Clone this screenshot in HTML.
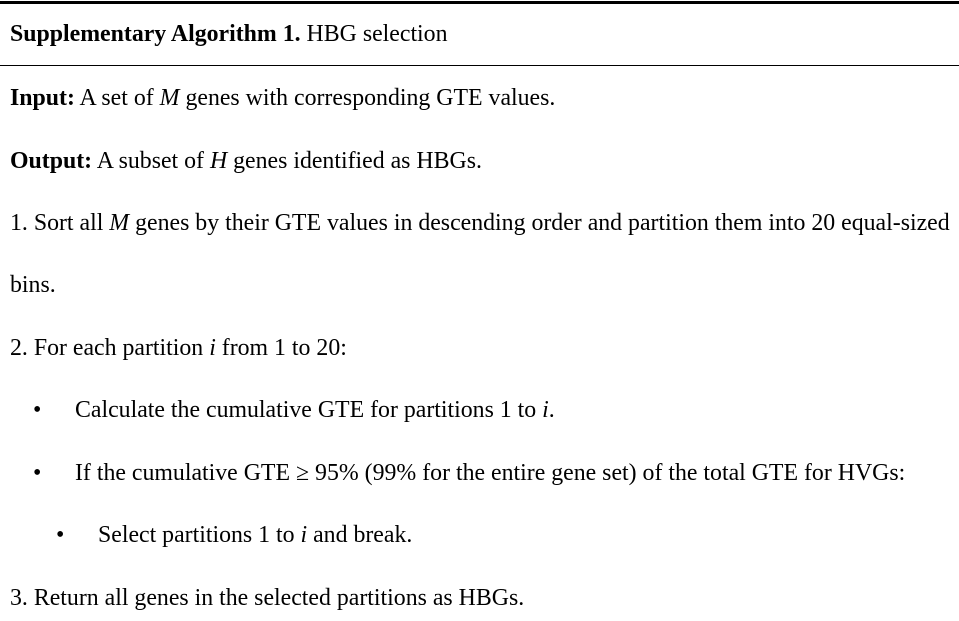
<!DOCTYPE html>
<html><head><meta charset="utf-8"><style>
html,body{margin:0;padding:0;background:#fff;width:959px;height:621px;overflow:hidden;position:relative}
body{font-family:"Liberation Serif","Tinos","Times New Roman","Times","Nimbus Roman","DejaVu Serif",serif;font-size:21px;color:#000}
.l{position:absolute;white-space:nowrap;line-height:21px}
.rule{position:absolute;left:0;width:959px;background:#000}
</style></head><body>
<div class="rule" style="top:1px;height:3px"></div>
<div class="l" style="left:10px;top:24px"><b>Supplementary Algorithm 1.</b> HBG selection</div>
<div class="rule" style="top:65px;height:1px"></div>
<div class="l" style="left:10px;top:88px"><b>Input:</b> A set of <i>M</i> genes with corresponding GTE values.</div>
<div class="l" style="left:10px;top:151px"><b>Output:</b> A subset of <i>H</i> genes identified as HBGs.</div>
<div class="l" id="ref" style="left:10px;top:213px">1. Sort all <i>M</i> genes by their GTE values in descending order and partition them into 20 equal-sized</div>
<div class="l" style="left:10px;top:275px">bins.</div>
<div class="l" style="left:10px;top:338px">2. For each partition <i>i</i> from 1 to 20:</div>
<div class="l" style="left:33px;top:400px">•</div>
<div class="l" style="left:75px;top:400px">Calculate the cumulative GTE for partitions 1 to <i>i</i>.</div>
<div class="l" style="left:33px;top:463px">•</div>
<div class="l" style="left:75px;top:463px">If the cumulative GTE ≥ 95% (99% for the entire gene set) of the total GTE for HVGs:</div>
<div class="l" style="left:56px;top:525px">•</div>
<div class="l" style="left:98px;top:525px">Select partitions 1 to <i>i</i> and break.</div>
<div class="l" style="left:10px;top:588px">3. Return all genes in the selected partitions as HBGs.</div>
<script>
(function(){
  var r=document.getElementById('ref');
  var w=r.getBoundingClientRect().width;
  if(w>0){
    var fs=21*940/w;
    document.body.style.fontSize=fs.toFixed(2)+'px';
  }
})();
</script>
</body></html>
